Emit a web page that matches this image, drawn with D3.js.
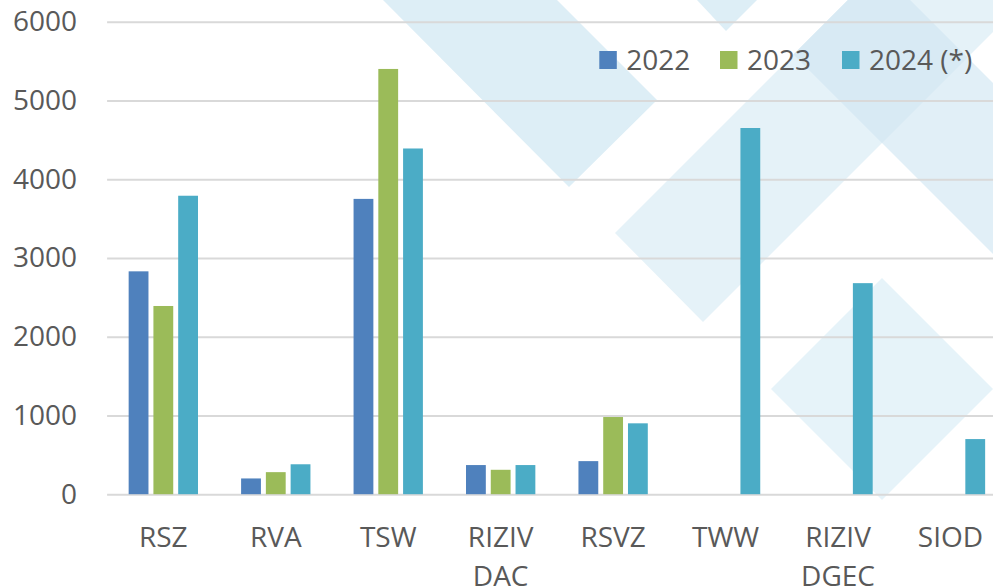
<!DOCTYPE html>
<html>
<head>
<meta charset="utf-8">
<script src="https://cdn.jsdelivr.net/npm/d3@7"></script>
<style>
    html, body { margin: 0; padding: 0; background: white; }
    svg { display: block; font-family: "Open Sans", sans-serif; }
</style>
</head>
<body>
<div id="chart"></div>
<script>
// data
const categories = ["RSZ", "RVA", "TSW", "RIZIV DAC", "RSVZ", "TWW", "RIZIV DGEC", "SIOD"];
const seriesNames = ["2022", "2023", "2024 (*)"];
const values2022 = [2830, 200, 3750, 370, 420, null, null, null];
const values2023 = [2390, 280, 5400, 310, 980, null, null, null];
const values2024 = [3790, 380, 4390, 370, 900, 4650, 2680, 700];
const yTicks = [0, 1000, 2000, 3000, 4000, 5000, 6000];

const colors = ["#4f81bd", "#9bbb59", "#4bacc6"];
const allValues = [values2022, values2023, values2024];

let width = 993, height = 587;

let svg = d3.select("#chart").append("svg")
    .attr("width", width)
    .attr("height", height)
    .style("background", "white");

// pale diamond watermark behind the plot (decoration only)
const watermark = [
    {pts: [[383, 0], [569, 187], [657, 100], [557, 0]], fill: "#ddeef6"},
    {pts: [[697, 0], [726, 31], [757, 0]], fill: "#ddeef6"},
    {pts: [[615, 233], [703, 322], [1025, 0], [848, 0]], fill: "#e5f2f8"},
    {pts: [[793.5, 54.5], [993, 254], [1100, 254], [1100, 190], [879, -31]], fill: "#e1eff7"},
    {pts: [[793.5, 54.5], [882, 143], [967.5, 57.5], [879, -31]], fill: "#d8eaf4"},
    {pts: [[771, 389], [882, 278], [993, 389], [882, 500]], fill: "#e6f3f9"}
];
svg.append("g")
    .selectAll("polygon")
    .data(watermark)
    .enter()
    .append("polygon")
    .attr("points", d => d.pts.map(p => p.join(",")).join(" "))
    .attr("fill", d => d.fill);

// scales
let y = d3.scaleLinear().domain([0, 6000]).range([494.2, 21.7]);
let x0 = d3.scaleBand().domain(categories).range([107.1, 1006.7]);
let bw = x0.bandwidth();
let x1 = d3.scaleBand().domain(seriesNames).range([bw * 0.1917, bw * 0.8083]).paddingInner(0.2);

// y axis + gridlines
let yAxis = svg.append("g")
    .attr("transform", "translate(" + 107.1 + ",0)")
    .call(d3.axisLeft(y).tickValues(yTicks).tickFormat(d3.format("d"))
        .tickSize(-(1006.7 - 107.1)).tickPadding(30));
yAxis.select(".domain").remove();
yAxis.selectAll(".tick line")
    .attr("stroke", "#d9d9d9")
    .attr("stroke-width", 2);
yAxis.selectAll(".tick text")
    .attr("fill", "#595959")
    .style("font-size", "28px")
    .style("font-family", "'Open Sans', sans-serif");

// bars
let groups = svg.append("g").selectAll("g")
    .data(categories)
    .enter()
    .append("g")
    .attr("transform", d => "translate(" + x0(d) + ",0)");

groups.selectAll("rect")
    .data((d, i) => seriesNames.map((s, j) => ({series: s, value: allValues[j][i], color: colors[j]})))
    .enter()
    .filter(d => d.value != null)
    .append("rect")
    .attr("x", d => x1(d.series))
    .attr("width", x1.bandwidth())
    .attr("y", d => y(d.value))
    .attr("height", d => y(0) - y(d.value))
    .attr("fill", d => d.color);

// category labels, split on space into two lines
let labels = svg.append("g").selectAll("text")
    .data(categories)
    .enter()
    .append("text")
    .attr("text-anchor", "middle")
    .attr("fill", "#595959")
    .style("font-size", "28px")
    .attr("x", d => x0(d) + bw / 2)
    .attr("y", 547);
labels.each(function (d) {
    let parts = d.split(" ");
    let t = d3.select(this);
    parts.forEach((p, i) => {
        t.append("tspan")
            .attr("x", x0(d) + bw / 2)
            .attr("dy", i == 0 ? 0 : 39)
            .text(p);
    });
});

// legend
const legendX = [599.3, 720, 842];
let legend = svg.append("g").selectAll("g")
    .data(seriesNames)
    .enter()
    .append("g")
    .attr("transform", (d, i) => "translate(" + legendX[i] + ",51)");
legend.append("rect")
    .attr("width", 17.5)
    .attr("height", 18)
    .attr("fill", (d, i) => colors[i]);
legend.append("text")
    .attr("x", 27)
    .attr("y", 19)
    .attr("fill", "#595959")
    .style("font-size", "28px")
    .text(d => d);
</script>
</body>
</html>
